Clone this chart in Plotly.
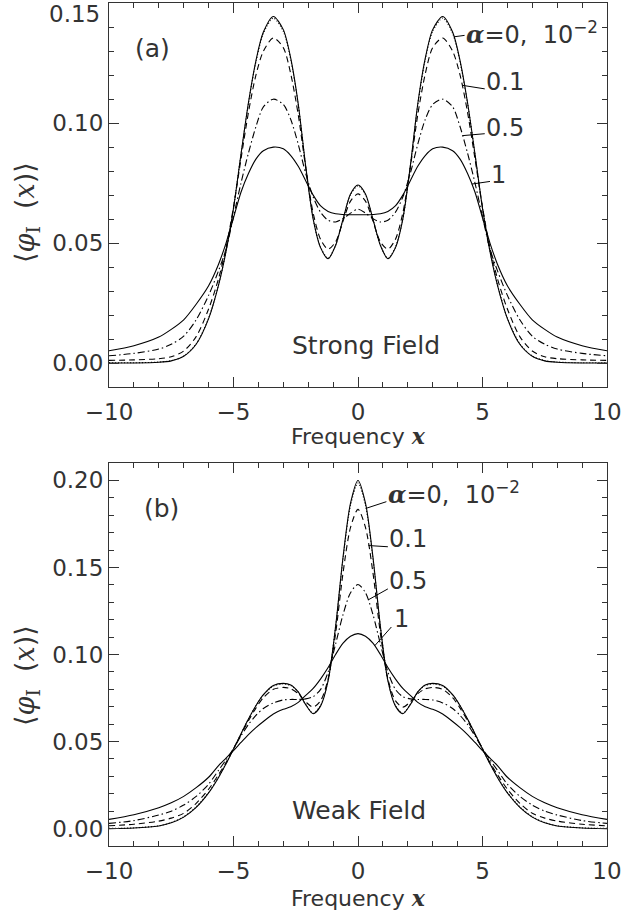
import plotly.graph_objects as go

# ---- data (profiles are symmetric in x; values for x >= 0) ----
x_half = [0, 0.3, 0.6, 0.9, 1.2, 1.5, 1.8, 2.1, 2.4, 2.7, 3.0, 3.4, 3.8, 4.1, 4.4,
          4.7, 5.0, 5.3, 5.6, 6.0, 6.5, 7.0, 7.5, 8.0, 9.0, 10.0]

# (a) Strong field
strong_a0 = [0.0742, 0.0705, 0.0600, 0.0490, 0.0435, 0.0480, 0.0600, 0.0820, 0.1080, 0.1270,
             0.1390, 0.1445, 0.1380, 0.1260, 0.1085, 0.0870, 0.0645, 0.0465, 0.0325, 0.0185,
             0.0078, 0.0028, 0.0009, 0.0003, 0.0000, 0.0000]
strong_a001 = [0.0739, 0.0702, 0.0599, 0.0491, 0.0437, 0.0482, 0.0601, 0.0819, 0.1076, 0.1264,
               0.1383, 0.1438, 0.1374, 0.1255, 0.1082, 0.0869, 0.0646, 0.0467, 0.0327, 0.0187,
               0.0080, 0.0029, 0.0010, 0.0004, 0.0001, 0.0001]
strong_a01 = [0.0705, 0.0675, 0.0592, 0.0505, 0.0475, 0.0515, 0.0625, 0.0815, 0.1035, 0.1205,
              0.1315, 0.1355, 0.1300, 0.1200, 0.1045, 0.0850, 0.0650, 0.0480, 0.0352, 0.0225,
              0.0110, 0.0050, 0.0026, 0.0018, 0.0013, 0.0011]
strong_a05 = [0.0641, 0.0625, 0.0602, 0.0588, 0.0595, 0.0628, 0.0692, 0.0790, 0.0912, 0.1015,
              0.1078, 0.1100, 0.1068, 0.0985, 0.0875, 0.0750, 0.0610, 0.0475, 0.0385, 0.0282,
              0.0180, 0.0112, 0.0078, 0.0058, 0.0040, 0.0030]
strong_a1 = [0.0618, 0.0618, 0.0619, 0.0622, 0.0632, 0.0655, 0.0700, 0.0760, 0.0820, 0.0865,
             0.0893, 0.0900, 0.0885, 0.0850, 0.0790, 0.0712, 0.0605, 0.0500, 0.0412, 0.0322,
             0.0245, 0.0180, 0.0140, 0.0108, 0.0072, 0.0051]

# (b) Weak field
weak_a0 = [0.2000, 0.1870, 0.1560, 0.1160, 0.0850, 0.0705, 0.0660, 0.0712, 0.0785, 0.0825,
           0.0834, 0.0822, 0.0769, 0.0706, 0.0629, 0.0544, 0.0457, 0.0372, 0.0294, 0.0205,
           0.0122, 0.0066, 0.0033, 0.0015, 0.0003, 0.0000]
weak_a001 = [0.1985, 0.1857, 0.1552, 0.1158, 0.0852, 0.0708, 0.0662, 0.0713, 0.0783, 0.0822,
             0.0831, 0.0819, 0.0767, 0.0705, 0.0629, 0.0545, 0.0458, 0.0374, 0.0296, 0.0207,
             0.0124, 0.0068, 0.0035, 0.0016, 0.0004, 0.0001]
weak_a01 = [0.1834, 0.1730, 0.1470, 0.1120, 0.0860, 0.0735, 0.0698, 0.0728, 0.0775, 0.0803,
            0.0811, 0.0800, 0.0752, 0.0692, 0.0620, 0.0540, 0.0458, 0.0380, 0.0310, 0.0226,
            0.0145, 0.0088, 0.0060, 0.0043, 0.0025, 0.0016]
weak_a05 = [0.1402, 0.1355, 0.1230, 0.1060, 0.0900, 0.0800, 0.0758, 0.0745, 0.0742, 0.0742,
            0.0739, 0.0722, 0.0690, 0.0650, 0.0598, 0.0532, 0.0460, 0.0395, 0.0335, 0.0255,
            0.0185, 0.0135, 0.0100, 0.0078, 0.0046, 0.0030]
weak_a1 = [0.1120, 0.1105, 0.1065, 0.1000, 0.0925, 0.0860, 0.0805, 0.0765, 0.0725, 0.0700,
           0.0685, 0.0658, 0.0615, 0.0580, 0.0540, 0.0495, 0.0448, 0.0405, 0.0362, 0.0295,
           0.0235, 0.0185, 0.0148, 0.0120, 0.0080, 0.0053]

a_values = ["0", "1e-2", "0.1", "0.5", "1"]
dashes = ["solid", "1px,2px", "6px,4px", "7px,3px,1.5px,3px", "solid"]

# y tick labels
top_tickvals = [0.0, 0.05, 0.10, 0.15]
top_ticktext = ["0.00", "0.05", "0.10", ""]
bot_tickvals = [0.0, 0.05, 0.10, 0.15, 0.20]
bot_ticktext = ["0.00", "0.05", "0.10", "0.15", "0.20"]

SERIF = "DejaVu Serif"
alpha_lbl = f"<span style='font-family:{SERIF}'><b><i>α</i></b></span>=0,  10<sup>−2</sup>"
curve_labels = [alpha_lbl, "0.1", "0.5", "1"]

# label placements (leader start on curve, leader end, text left/centre) for each panel
top_leaders = [(3.85, 0.1360, 4.28, 0.1366), (4.18, 0.1158, 5.09, 0.1143),
               (4.20, 0.0948, 5.09, 0.0956), (4.57, 0.0746, 5.30, 0.0757)]
top_text = [(4.26, 0.1378), (5.07, 0.1172), (5.07, 0.0978), (5.27, 0.0785)]
bot_leaders = [(0.33, 0.1840, 1.14, 0.1878), (0.42, 0.1626, 1.20, 0.1619),
               (0.40, 0.1313, 1.20, 0.1377), (0.67, 0.1050, 1.34, 0.1158)]
bot_text = [(1.12, 0.1925), (1.18, 0.1662), (1.18, 0.1425), (1.36, 0.1203)]


def full(v):
    return list(v[:0:-1]) + list(v)


x_full = [-x for x in x_half[:0:-1]] + list(x_half)

fig = go.Figure()
panels = [("x", "y", [strong_a0, strong_a001, strong_a01, strong_a05, strong_a1]),
          ("x2", "y2", [weak_a0, weak_a001, weak_a01, weak_a05, weak_a1])]
for xa, ya, series in panels:
    for a, vals, d in zip(a_values, series, dashes):
        fig.add_trace(go.Scatter(x=x_full, y=full(vals), mode="lines", xaxis=xa, yaxis=ya,
                                 line=dict(color="black", width=1.1, dash=d, shape="spline",
                                           smoothing=0.8),
                                 name=f"a={a}", showlegend=False, hoverinfo="skip"))

INK = "#333333"
TICKF = dict(family="DejaVu Sans", size=23, color=INK)
MINOR_Y = dict(dtick=0.01, tick0=0, ticklen=5, ticks="inside", tickcolor=INK, tickwidth=1)
axis_common = dict(showgrid=False, zeroline=False, showline=True, linecolor=INK, linewidth=1,
                   mirror="ticks", ticks="inside", ticklen=10, tickwidth=1, tickcolor=INK,
                   tickfont=TICKF)
xcommon = dict(axis_common, range=[-10, 10], tick0=0, dtick=5,
               minor=dict(dtick=1, ticklen=5, ticks="inside", tickcolor=INK, tickwidth=1),
               ticklabelstandoff=4)

fig.update_layout(
    width=637, height=918, plot_bgcolor="white", paper_bgcolor="white",
    margin=dict(l=109, r=30, t=3, b=72),
    xaxis=dict(xcommon, domain=[0, 1], anchor="y"),
    yaxis=dict(axis_common, domain=[0.5445, 1], range=[-0.01, 0.1501], tickmode="array",
               tickvals=top_tickvals, ticktext=top_ticktext, ticklabelstandoff=0, minor=MINOR_Y),
    xaxis2=dict(xcommon, domain=[0, 1], anchor="y2"),
    yaxis2=dict(axis_common, domain=[0, 0.4543], range=[-0.01, 0.21], tickmode="array",
                tickvals=bot_tickvals, ticktext=bot_ticktext, ticklabelstandoff=0, minor=MINOR_Y),
)

ann = []
shapes = []
LBLF = dict(family="DejaVu Sans", size=24, color=INK)
for (xr, yr, leaders, texts) in [("x", "y", top_leaders, top_text), ("x2", "y2", bot_leaders, bot_text)]:
    for (x0, y0, x1, y1), (tx, ty), lbl in zip(leaders, texts, curve_labels):
        shapes.append(dict(type="line", xref=xr, yref=yr, x0=x0, y0=y0, x1=x1, y1=y1,
                           line=dict(color="black", width=1)))
        ann.append(dict(xref=xr, yref=yr, x=tx, y=ty, text=lbl, showarrow=False,
                        xanchor="left", yanchor="middle", font=LBLF))

ann += [
    # top tick label of panel (a), set just inside the page as in the original
    dict(xref="paper", yref="paper", x=-0.014, y=0.9875, text="0.15", showarrow=False,
         xanchor="right", yanchor="middle", font=TICKF),
    dict(xref="x", yref="y", x=-8.25, y=0.131, text="(a)", showarrow=False,
         font=dict(family="DejaVu Sans", size=25, color=INK)),
    dict(xref="x2", yref="y2", x=-7.9, y=0.184, text="(b)", showarrow=False,
         font=dict(family="DejaVu Sans", size=25, color=INK)),
    dict(xref="x", yref="y", x=-2.75, y=0.0072, text="Strong Field", showarrow=False,
         xanchor="left", font=dict(family="DejaVu Sans", size=25, color=INK)),
    dict(xref="x2", yref="y2", x=-2.75, y=0.0105, text="Weak Field", showarrow=False,
         xanchor="left", font=dict(family="DejaVu Sans", size=25, color=INK)),
]

xtitle = f"Frequency <span style='font-family:{SERIF}'><b><i>x</i></b></span>"
ytitle = (f"⟨<span style='font-family:{SERIF}'><i>φ</i><sub>I</sub></span>\u00a0\u00a0"
          f"(<span style='font-family:{SERIF}'><i>x</i></span>)⟩")
TF = dict(family="DejaVu Sans", size=22, color=INK)
YTF = dict(family="DejaVu Sans", size=27, color=INK)
for yp in [0.4864, -0.0617]:
    ann.append(dict(xref="paper", yref="paper", x=0.5, y=yp, text=xtitle, showarrow=False,
                    font=TF, yanchor="middle"))
for yp in [0.752, 0.2028]:
    ann.append(dict(xref="paper", yref="paper", x=-0.1667, y=yp, text=ytitle, showarrow=False,
                    font=YTF, textangle=-90, xanchor="center", yanchor="middle"))

fig.update_layout(annotations=ann, shapes=shapes)
fig.write_html("out.html", config={"displayModeBar": False},
               post_script="document.body.style.margin='0px';")
